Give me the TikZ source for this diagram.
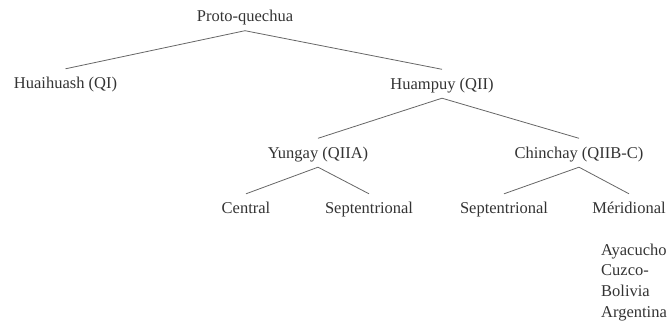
\documentclass[tikz,border=0pt]{standalone}
\usepackage{fontspec}
\setmainfont{Liberation Serif}
\begin{document}
\begin{tikzpicture}[x=1pt,y=-1pt,
  lbl/.style={inner sep=0pt, text height=11pt, text depth=4pt, anchor=base,
    font=\fontsize{16.5}{20.7}\selectfont, text=black!80},
  sub/.style={lbl, anchor=base west},
  branch/.style={draw=black!60, line width=0.8pt}]
\path[use as bounding box] (0,0) rectangle (672,324);
\node[lbl] (pq) at (245,21.5) {Proto-quechua};
\node[lbl] (qi) at (65.5,88.5) {Huaihuash (QI)};
\node[lbl] (qii) at (442,89) {Huampuy (QII)};
\node[lbl] (qiia) at (318,158) {Yungay (QIIA)};
\node[lbl] (qiib) at (579,158) {Chinchay (QIIB-C)};
\node[lbl] (cen) at (246,213.5) {Central};
\node[lbl] (sep1) at (369,213.5) {Septentrional};
\node[lbl] (sep2) at (504,213.5) {Septentrional};
\node[lbl] (mer) at (629,213.5) {Méridional};
\node[sub] (a1) at (601,255) {Ayacucho};
\node[sub] (a2) at (601,275.7) {Cuzco-};
\node[sub] (a3) at (601,296.3) {Bolivia};
\node[sub] (a4) at (601,317) {Argentina};
\foreach \p/\c in {pq/qi, pq/qii, qii/qiia, qii/qiib, qiia/cen, qiia/sep1, qiib/sep2, qiib/mer}
  \draw[branch] ([yshift=-5pt]\p.south) -- ([yshift=8.5pt]\c.north);
\end{tikzpicture}
\end{document}
